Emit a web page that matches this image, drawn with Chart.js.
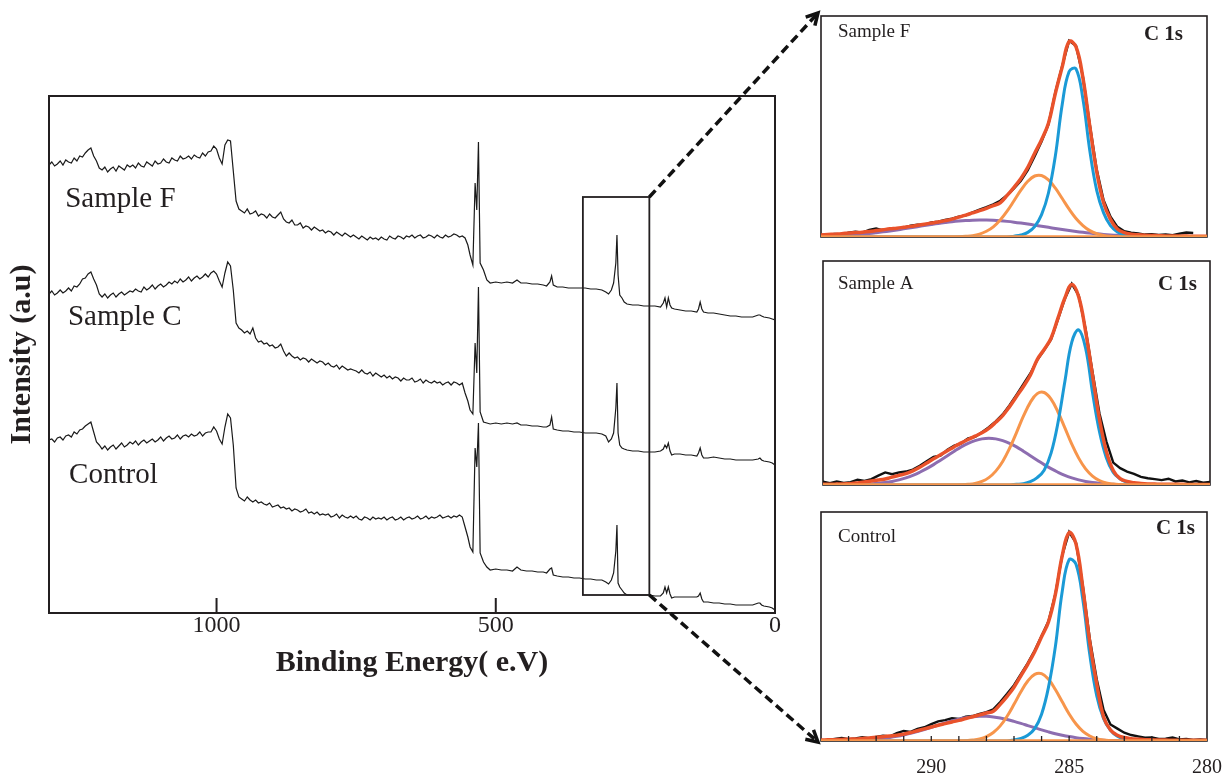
<!DOCTYPE html>
<html>
<head>
<meta charset="utf-8">
<title>XPS survey and C 1s spectra</title>
<script src="https://cdn.jsdelivr.net/npm/chart.js@4.4.1/dist/chart.umd.min.js"></script>
<style>
  html, body { margin: 0; padding: 0; background: #fff; overflow: hidden; }
  body { width: 1226px; height: 778px; position: relative; }
  canvas { position: absolute; }
  #survey { left: 0; top: 80px; }
  #insetF { left: 811px; top: 6px; }
  #insetA { left: 813px; top: 251px; }
  #insetCtl { left: 811px; top: 502px; }
  #overlay { left: 0; top: 0; pointer-events: none; }
</style>
</head>
<body>
<canvas id="survey" width="790" height="620"></canvas>
<canvas id="insetF" width="410" height="241"></canvas>
<canvas id="insetA" width="407" height="244"></canvas>
<canvas id="insetCtl" width="426" height="276"></canvas>
<canvas id="overlay" width="1226" height="778"></canvas>
<script>
const SERIF = "'Liberation Serif', 'Times New Roman', serif";
const INK = "#231f20";
Chart.defaults.font.family = SERIF;
Chart.defaults.color = INK;

// ---- survey spectra (binding energy in eV, intensity in a.u.) ----
const surveyEnergy = [
  1300, 1295, 1290, 1285, 1280, 1275, 1270, 1265, 1260, 1255,
  1250, 1245, 1240, 1235, 1230, 1225, 1220, 1215, 1210, 1205,
  1200, 1195, 1190, 1185, 1180, 1175, 1170, 1165, 1160, 1155,
  1150, 1145, 1140, 1135, 1130, 1125, 1120, 1115, 1110, 1105,
  1100, 1095, 1090, 1085, 1080, 1075, 1070, 1065, 1060, 1055,
  1050, 1045, 1040, 1035, 1030, 1025, 1020, 1015, 1010, 1005,
  1000, 995, 990, 985, 980, 975, 970, 965, 960,
  955, 950, 945, 940, 935, 930, 925, 920, 915, 910,
  905, 900, 895, 890, 885, 880, 875, 870, 865, 860,
  855, 850, 845, 840, 835, 830, 825, 820, 815, 810,
  805, 800, 795, 790, 785, 780, 775, 770, 765, 760,
  755, 750, 745, 740, 735, 730, 725, 720, 715, 710,
  705, 700, 695, 690, 685, 680, 675, 670, 665, 660,
  655, 650, 645, 640, 635, 630, 625, 620, 615, 610,
  605, 600, 595, 590, 585, 580, 575, 570, 565, 560,
  555, 550, 546, 541, 537, 534, 531, 528, 522, 516,
  510, 500, 490, 480, 470, 462, 455, 445, 435, 425,
  415, 409, 403, 400, 397, 390, 380, 370, 360, 350,
  340, 330, 320, 310, 303, 298, 293, 289, 285, 283,
  281, 278, 274, 270, 265, 255, 245, 235, 225, 215,
  205, 200, 197, 194, 191, 188, 185, 180, 170, 160,
  150, 140, 137, 134, 131, 128, 120, 110, 100, 90,
  80, 70, 60, 50, 40, 30, 27, 24, 20, 10,
  5, 0
];

const surveyF = [
  448, 451, 447, 449, 452, 448, 453, 451, 450, 455,
  452, 457, 456, 460, 463, 465, 457, 452, 445, 443,
  446, 441, 444, 446, 442, 447, 445, 443, 448, 446,
  448, 445, 450, 447, 446, 451, 449, 447, 452, 449,
  450, 454, 451, 450, 455, 453, 452, 457, 454, 455,
  457, 454, 458, 456, 455, 460, 457, 461, 462, 467,
  464, 455, 449, 468, 473, 472, 442, 412, 404,
  402, 400, 404, 399, 400, 402, 397, 399, 398, 395,
  399, 396, 395, 398, 401, 394, 391, 390, 393, 388,
  388, 390, 385, 387, 386, 383, 386, 384, 382, 383,
  380, 382, 381, 378, 381, 379, 377, 380, 378, 376,
  378, 376, 374, 377, 375, 373, 376, 374, 375, 373,
  376, 374, 373, 377, 375, 374, 377, 376, 374, 377,
  376, 378, 375, 377, 378, 375, 376, 378, 377, 375,
  378, 376, 375, 378, 376, 377, 379, 378, 376, 377,
  375, 368, 358, 348, 430, 403, 471, 350, 343, 333,
  330, 331, 330, 331, 330, 333, 330, 330, 329, 329,
  328, 327, 331, 337, 328, 326, 326, 325, 325, 325,
  325, 324, 324, 323, 321, 319, 323, 330, 350, 378,
  338, 318, 315, 311, 309, 308, 308, 307, 307, 307,
  306, 310, 315, 306, 315, 308, 305, 304, 303, 302,
  302, 301, 304, 311, 304, 301, 300, 300, 299, 298,
  297, 297, 296, 296, 296, 298, 298, 297, 296, 295,
  294, 293
];

const surveyC = [
  319, 322, 318, 320, 323, 320, 322, 325, 322, 327,
  326, 329, 334, 335, 339, 341, 334, 328, 319, 316,
  319, 315, 318, 320, 316, 319, 321, 318, 320, 322,
  321, 324, 322, 321, 326, 323, 325, 328, 324, 327,
  329, 326, 328, 331, 329, 332, 330, 334, 331, 333,
  336, 332, 335, 337, 334, 336, 339, 336, 340, 342,
  339, 332, 326, 340, 351, 347, 323, 290, 285,
  283, 280, 282, 279, 285, 275, 271, 272, 269, 270,
  267, 268, 265, 266, 269, 262, 257, 260, 257, 255,
  256, 253, 255, 254, 251, 254, 252, 250, 252, 251,
  248, 250, 247, 246, 248, 244, 247, 245, 243, 244,
  243, 242, 240, 243, 240, 239, 241, 237, 240, 238,
  236, 238, 235, 237, 234, 236, 235, 232, 235, 233,
  233, 235, 231, 232, 234, 230, 233, 231, 230, 232,
  230, 231, 228, 230, 231, 228, 231, 230, 228, 230,
  220, 212, 203, 199, 270, 240, 326, 201, 191, 190,
  189, 190, 189, 190, 189, 190, 188, 188, 187, 187,
  186, 186, 188, 196, 184, 183, 182, 182, 181, 181,
  180, 180, 180, 179, 177, 171, 174, 180, 205, 230,
  180, 168, 165, 164, 163, 162, 162, 161, 161, 161,
  162, 164, 168, 165, 170, 162, 158, 159, 159, 158,
  158, 157, 160, 165, 158, 155, 155, 156, 155, 154,
  154, 153, 153, 153, 153, 154, 155, 153, 152, 151,
  150, 148
];

const surveyControl = [
  173, 174, 171, 175, 176, 173, 177, 178, 176, 181,
  179, 183, 184, 187, 189, 191, 181, 171, 168, 164,
  167, 163, 166, 168, 164, 167, 170, 166, 168, 171,
  169, 172, 168, 171, 173, 170, 172, 174, 171, 173,
  176, 172, 175, 177, 174, 175, 178, 174, 177, 178,
  176, 179, 177, 178, 181, 177, 180, 181, 181, 186,
  182, 174, 169, 186, 199, 195, 168, 125, 116,
  114, 112, 116, 113, 111, 113, 110, 111, 109, 108,
  110, 106, 107, 108, 105, 106, 104, 105, 102, 104,
  103, 101, 102, 104, 100, 101, 99, 101, 98, 99,
  98, 99, 96, 97, 99, 95, 98, 96, 95, 97,
  95, 97, 94, 93, 96, 95, 93, 96, 94, 95,
  94, 96, 93, 95, 96, 93, 94, 96, 93, 95,
  96, 94, 95, 97, 94, 95, 97, 94, 96, 95,
  96, 98, 95, 96, 97, 95, 97, 96, 98, 96,
  86, 76, 66, 61, 165, 146, 190, 60, 51, 46,
  43, 44, 43, 43, 42, 46, 43, 42, 42, 41,
  41, 40, 44, 45, 38, 37, 36, 36, 35, 35,
  34, 34, 33, 33, 31, 29, 33, 40, 62, 88,
  30, 26, 23, 20, 18, 18, 18, 18, 18, 17,
  17, 20, 26, 20, 26, 19, 15, 16, 16, 16,
  16, 16, 17, 20, 14, 11, 11, 10, 10, 9,
  9, 8, 8, 8, 8, 10, 10, 8, 7, 6,
  5, 3
];

const surveyTicks = [1000, 500, 0];
const surveyLabels = ["Sample F", "Sample C", "Control"];
const surveyLabelAt = [[1271, 406], [1266, 288], [1264, 130]];
const zoomWindow = [344, 225];
const zoomLevels = [18, 416];

// ---- C 1s high resolution (0..100 = full inset height) ----
const c1sEnergy = [
  294, 293.75, 293.5, 293.25, 293, 292.75, 292.5, 292.25, 292, 291.75,
  291.5, 291.25, 291, 290.75, 290.5, 290.25, 290, 289.75, 289.5, 289.25,
  289, 288.75, 288.5, 288.25, 288, 287.75, 287.5, 287.25, 287, 286.75,
  286.5, 286.25, 286, 285.75, 285.5, 285.25, 285, 284.75, 284.5, 284.25,
  284, 283.75, 283.5, 283.25, 283, 282.75, 282.5, 282.25, 282, 281.75,
  281.5, 281.25, 281, 280.75, 280.5, 280.25, 280
];
const c1sRange = [294, 280];
const c1sBackground = [0, 0];
const c1sTicks = [290, 285, 280];
const c1sMinorTicks = [293, 292, 291, 290, 289, 288, 287, 286, 285, 284, 283, 282, 281];

// Sample F
const rawF = [
  0.9, 1.0, 1.4, 1.2, 1.9, 2.4, 2.0, 3.2, 3.8, 3.0,
  3.4, 3.5, 4.2, 5.1, 5.6, 5.5, 6.6, 6.9, 7.7, 8.3,
  9.2, 9.8, 11.2, 12.4, 13.5, 14.8, 16.4, 18.9, 22.0, 25.5,
  30.2, 36.5, 43.2, 51, 65.5, 77.5, 88.8, 86.5, 72.5, 50.8,
  30.5, 16.6, 9.2, 4.6, 2.6, 2.0, 1.6, 1.1, 1.3, 0.9,
  1.2, 0.8, 1.5, 2.0, 1.8, null, null
];
const fitF = [
  0.9, 1.1, 1.3, 1.5, 1.8, 2.0, 2.2, 2.5, 2.9, 3.3,
  3.7, 4.0, 4.4, 4.8, 5.3, 5.8, 6.3, 6.8, 7.4, 8.1,
  9.0, 9.9, 10.9, 11.9, 13.0, 14.2, 15.5, 18.8, 22.5, 26.5,
  31.5, 37.9, 44, 51.5, 65, 77, 88.5, 86, 72, 50,
  29.5, 15.5, 8, 3.6, 2.0, 1.3, 1.0, 0.8, 0.7, 0.6,
  0.5, 0.5, 0.4, 0.4, 0.3, 0.3, 0.3
];
const ccF = [
  0, 0, 0, 0, 0, 0, 0, 0, 0, 0,
  0, 0, 0, 0, 0, 0, 0, 0, 0, 0,
  0, 0, 0, 0, 0, 0, 0, 0, 0.4, 0.9,
  2.1, 4.7, 10.1, 19.9, 36.7, 60.1, 74.9, 76.1, 62.4, 39,
  21.1, 10.9, 5.1, 2.3, 1.0, 0.5, 0.2, 0, 0, 0,
  0, 0, 0, 0, 0, 0, 0
];
const coF = [
  0, 0, 0, 0, 0, 0, 0, 0, 0, 0,
  0, 0, 0, 0, 0, 0, 0, 0, 0, 0,
  0.1, 0.3, 0.6, 1.3, 2.6, 4.6, 7.7, 11.7, 16.4, 21.2,
  25.2, 27.6, 27.8, 25.8, 22.1, 17.4, 12.6, 8.4, 5.2, 2.9,
  1.5, 0.7, 0.3, 0.1, 0, 0, 0, 0, 0, 0,
  0, 0, 0, 0, 0, 0, 0
];
const cooF = [
  0.32, 0.42, 0.54, 0.69, 0.87, 1.09, 1.34, 1.63, 1.97, 2.34,
  2.75, 3.2, 3.67, 4.16, 4.67, 5.18, 5.67, 6.14, 6.56, 6.94,
  7.25, 7.48, 7.63, 7.7, 7.67, 7.55, 7.35, 7.07, 6.72, 6.31,
  5.86, 5.38, 4.87, 4.37, 3.87, 3.38, 2.92, 2.5, 2.11, 1.76,
  1.45, 1.18, 0.95, 0.76, 0.6, 0.47, 0.36, 0.27, 0.2, 0.15,
  0.11, 0.08, 0.06, 0.04, 0.03, 0.02, 0.01
];

// Sample A
const rawA = [
  1.5, 0.8, 1.6, 0.9, 1.3, 2.4, 1.8, 2.6, 4.2, 5.6,
  4.8, 5.6, 6.0, 6.9, 8.6, 10.6, 12.6, 13.1, 15.8, 17.6,
  18.6, 20.8, 21.5, 23.6, 25.8, 28.4, 31.5, 35.6, 40.2, 45,
  49.8, 55.8, 60.2, 65, 74, 83.2, 89.8, 84.6, 69.5, 50.5,
  32, 19.5, 10, 7.5, 6, 5, 3.6, 3.0, 2.6, 2.2,
  2.8, 1.6, 2.0, 1.2, 1.8, 1.0, 1.4
];
const fitA = [
  0.3, 0.3, 0.4, 0.5, 0.6, 0.9, 1.3, 1.8, 2.2, 2.7,
  3.5, 4.3, 5.1, 6.3, 7.9, 9.8, 11.7, 13.5, 15.3, 17.1,
  18.8, 20.3, 21.8, 23.3, 25.3, 28, 31, 35, 39.5, 44,
  49, 56, 60.5, 65.5, 74.5, 83.5, 89.5, 84, 68.5, 49,
  29.5, 15, 6.5, 2.8, 1.6, 1.0, 0.7, 0.5, 0.4, 0.3,
  0.3, 0.3, 0.3, 0.2, 0.2, 0.2, 0.2
];
const ccA = [
  0, 0, 0, 0, 0, 0, 0, 0, 0, 0,
  0, 0, 0, 0, 0, 0, 0, 0, 0, 0,
  0, 0, 0, 0, 0, 0, 0, 0, 0.3, 0.6,
  1.5, 3.3, 6.6, 14.2, 27.8, 46.2, 63.8, 69.3, 61.1, 41.3,
  23.9, 12.2, 5.6, 2.7, 1.2, 0.5, 0.2, 0, 0, 0,
  0, 0, 0, 0, 0, 0, 0
];
const coA = [
  0, 0, 0, 0, 0, 0, 0, 0, 0, 0,
  0, 0, 0, 0, 0, 0, 0, 0, 0, 0,
  0.1, 0.3, 0.7, 1.6, 3.3, 6.2, 10.5, 16.4, 23.4, 30.7,
  36.9, 40.8, 41.3, 38.3, 32.6, 25.5, 18.2, 12.0, 7.2, 4.0,
  2.0, 0.9, 0.4, 0.15, 0, 0, 0, 0, 0, 0,
  0, 0, 0, 0, 0, 0, 0
];
const cooA = [
  0, 0, 0.03, 0.06, 0.11, 0.19, 0.31, 0.49, 0.75, 1.1,
  1.6, 2.3, 3.2, 4.3, 5.7, 7.3, 9.1, 11.1, 13.1, 15.1,
  17.0, 18.6, 19.8, 20.6, 20.9, 20.6, 19.8, 18.6, 17.0, 15.1,
  13.1, 11.1, 9.1, 7.3, 5.7, 4.3, 3.2, 2.3, 1.6, 1.1,
  0.75, 0.49, 0.31, 0.19, 0.11, 0.06, 0.03, 0, 0, 0,
  0, 0, 0, 0, 0, 0, 0
];

// Control
const rawCtl = [
  0.3, 0.5, 0.9, 1.3, 0.8, 1.1, 1.6, 1.2, 1.8, 2.3,
  2.0, 3.4, 4.4, 4.0, 5.3, 6.0, 7.4, 8.6, 9.1, 9.9,
  9.6, 10.6, 10.9, 11.8, 12.6, 13.8, 17.0, 20.6, 24.4, 29.2,
  34.0, 39.5, 45.8, 52.3, 64.2, 81.2, 91.2, 86.5, 67.5, 44.5,
  27, 13.5, 7.2, 5.4, 3.6, 2.6, 2.0, 1.4, 1.6, 0.9,
  1.0, 1.5, 0.7, 0.9, 0.5, 0.7, 0.5
];
const fitCtl = [
  0.4, 0.5, 0.6, 0.7, 0.8, 0.9, 1.1, 1.3, 1.6, 1.9,
  2.2, 2.5, 3.0, 3.7, 4.5, 5.3, 6.1, 6.9, 7.6, 8.3,
  9.0, 9.8, 10.6, 11.4, 12.2, 13.0, 16.0, 19.5, 23.5, 28.5,
  33.5, 39, 45.5, 52, 64, 81, 91, 86, 66.5, 43,
  25, 10.5, 4.8, 2.5, 1.5, 1.0, 0.8, 0.6, 0.5, 0.4,
  0.4, 0.3, 0.3, 0.3, 0.3, 0.3, 0.3
];
const ccCtl = [
  0, 0, 0, 0, 0, 0, 0, 0, 0, 0,
  0, 0, 0, 0, 0, 0, 0, 0, 0, 0,
  0, 0, 0, 0, 0, 0, 0, 0, 0.5, 1.1,
  2.5, 5.4, 11.7, 23.4, 41.2, 65.4, 79.2, 77.2, 61.4, 37.6,
  19.8, 9.7, 4.7, 2.1, 0.9, 0.4, 0.2, 0, 0, 0,
  0, 0, 0, 0, 0, 0, 0
];
const coCtl = [
  0, 0, 0, 0, 0, 0, 0, 0, 0, 0,
  0, 0, 0, 0, 0, 0, 0, 0, 0, 0,
  0, 0.13, 0.4, 0.9, 1.9, 3.7, 6.6, 10.8, 16.0, 21.5,
  26.2, 29.1, 29.4, 27.0, 22.5, 17.1, 11.8, 7.4, 4.2, 2.2,
  1.0, 0.4, 0.15, 0, 0, 0, 0, 0, 0, 0,
  0, 0, 0, 0, 0, 0, 0
];
const cooCtl = [
  0.03, 0.05, 0.08, 0.12, 0.18, 0.28, 0.41, 0.59, 0.83, 1.15,
  1.55, 2.05, 2.65, 3.35, 4.16, 5.04, 5.97, 6.93, 7.88, 8.76,
  9.53, 10.15, 10.57, 10.8, 10.76, 10.5, 10.04, 9.39, 8.59, 7.7,
  6.74, 5.78, 4.85, 3.99, 3.2, 2.52, 1.94, 1.46, 1.08, 0.78,
  0.55, 0.38, 0.26, 0.17, 0.11, 0.07, 0.05, 0, 0, 0,
  0, 0, 0, 0, 0, 0, 0
];

const RED = "#e9522b";
const BLUE = "#1b9ad6";
const ORANGE = "#f7954b";
const PURPLE = "#8d6db0";

function points(xs, ys) {
  return xs.map((x, i) => ({ x: x, y: ys[i] }));
}

function trace(xs, ys, color, width, tension) {
  return {
    data: points(xs, ys),
    borderColor: color,
    borderWidth: width,
    pointRadius: 0,
    fill: false,
    tension: tension,
    spanGaps: false,
  };
}

// frame, inward ticks, zoom window and sample names on the survey
const surveyDecor = {
  id: "surveyDecor",
  afterDatasetsDraw(chart) {
    const { ctx, chartArea: a, scales } = chart;
    const x = scales.x, y = scales.y;
    ctx.save();
    ctx.strokeStyle = INK;
    ctx.lineWidth = 2;
    ctx.strokeRect(a.left, a.top, a.right - a.left, a.bottom - a.top);
    surveyTicks.forEach((v) => {
      const px = x.getPixelForValue(v);
      ctx.beginPath();
      ctx.moveTo(px, a.bottom);
      ctx.lineTo(px, a.bottom - 15);
      ctx.stroke();
    });
    const x0 = x.getPixelForValue(zoomWindow[0]);
    const x1 = x.getPixelForValue(zoomWindow[1]);
    const y0 = y.getPixelForValue(zoomLevels[1]);
    const y1 = y.getPixelForValue(zoomLevels[0]);
    ctx.lineWidth = 1.8;
    ctx.strokeRect(x0, y0, x1 - x0, y1 - y0);
    ctx.fillStyle = INK;
    ctx.font = "29px " + SERIF;
    ctx.textBaseline = "alphabetic";
    surveyLabels.forEach((t, i) => {
      ctx.fillText(t, x.getPixelForValue(surveyLabelAt[i][0]), y.getPixelForValue(surveyLabelAt[i][1]));
    });
    ctx.restore();
  },
};

const survey = new Chart(document.getElementById("survey"), {
  type: "line",
  data: {
    datasets: [
      trace(surveyEnergy, surveyF, "#1a1a1a", 1.2, 0),
      trace(surveyEnergy, surveyC, "#1a1a1a", 1.2, 0),
      trace(surveyEnergy, surveyControl, "#1a1a1a", 1.2, 0),
    ],
  },
  options: {
    responsive: false,
    animation: false,
    devicePixelRatio: 1,
    layout: { padding: { top: 16, right: 15, bottom: 15, left: 0 } },
    plugins: { legend: { display: false }, tooltip: { enabled: false } },
    scales: {
      x: {
        type: "linear",
        reverse: true,
        min: 0,
        max: 1300,
        grid: { display: false, drawTicks: false },
        border: { display: false },
        afterBuildTicks: (s) => { s.ticks = surveyTicks.map((v) => ({ value: v })); },
        afterFit: (s) => { s.height = 72; },
        ticks: {
          autoSkip: false,
          maxRotation: 0,
          padding: -2,
          color: INK,
          font: { size: 24 },
          callback: (v) => String(v),
        },
        title: {
          display: true,
          text: "Binding Energy( e.V)",
          color: INK,
          font: { size: 30, weight: "bold" },
          padding: { top: 0, bottom: 4 },
        },
      },
      y: {
        min: 0,
        max: 517,
        grid: { display: false, drawTicks: false },
        border: { display: false },
        ticks: { display: false },
        afterFit: (s) => { s.width = 49; },
        title: {
          display: true,
          text: "Intensity (a.u)",
          color: INK,
          font: { size: 30, weight: "bold" },
          padding: { top: 4, bottom: 0 },
        },
      },
    },
  },
  plugins: [surveyDecor],
});

// frame under the curves, names and minor ticks over them
const insetDecor = {
  id: "insetDecor",
  beforeDatasetsDraw(chart) {
    const { ctx, chartArea: a } = chart;
    ctx.save();
    ctx.strokeStyle = INK;
    ctx.lineWidth = 1.6;
    ctx.strokeRect(a.left, a.top, a.right - a.left, a.bottom - a.top);
    ctx.restore();
  },
  afterDatasetsDraw(chart, args, o) {
    const { ctx, chartArea: a } = chart;
    const x = chart.scales.x;
    ctx.save();
    ctx.fillStyle = INK;
    ctx.textBaseline = "alphabetic";
    ctx.textAlign = "left";
    ctx.font = "19px " + SERIF;
    ctx.fillText(o.name, a.left + o.nameAt[0], a.top + o.nameAt[1]);
    ctx.textAlign = "right";
    ctx.font = "bold 21px " + SERIF;
    ctx.fillText("C 1s", a.right - o.tagAt[0], a.top + o.tagAt[1]);
    if (o.minor) {
      ctx.strokeStyle = INK;
      ctx.lineWidth = 1.3;
      c1sMinorTicks.forEach((v) => {
        const px = x.getPixelForValue(v);
        ctx.beginPath();
        ctx.moveTo(px, a.bottom);
        ctx.lineTo(px, a.bottom - 5);
        ctx.stroke();
      });
    }
    ctx.restore();
  },
};

function insetChart(id, s, deco, padding, withAxis) {
  return new Chart(document.getElementById(id), {
    type: "line",
    data: {
      // first dataset is painted last
      datasets: [
        trace(c1sRange, c1sBackground, ORANGE, 3.5, 0),
        trace(c1sEnergy, s.fit, RED, 3.5, 0.4),
        trace(c1sEnergy, s.cc, BLUE, 3, 0.4),
        trace(c1sEnergy, s.co, ORANGE, 3, 0.4),
        trace(c1sEnergy, s.coo, PURPLE, 3, 0.4),
        trace(c1sEnergy, s.raw, "#111", 2.4, 0),
      ],
    },
    options: {
      responsive: false,
      animation: false,
      devicePixelRatio: 1,
      layout: { padding: padding },
      plugins: { legend: { display: false }, tooltip: { enabled: false }, insetDecor: deco },
      scales: {
        x: {
          type: "linear",
          reverse: true,
          min: 280,
          max: 294,
          display: withAxis,
          grid: { display: false, drawTicks: false },
          border: { display: false },
          afterBuildTicks: (sc) => { sc.ticks = c1sTicks.map((v) => ({ value: v })); },
          afterFit: (sc) => { if (withAxis) sc.height = 37; },
          ticks: { autoSkip: false, maxRotation: 0, padding: 15, color: INK, font: { size: 20 } },
        },
        y: { min: 0, max: 100, display: false },
      },
    },
    plugins: [insetDecor],
  });
}

const insetF = insetChart(
  "insetF",
  { raw: rawF, fit: fitF, cc: ccF, co: coF, coo: cooF },
  { name: "Sample F", nameAt: [17, 21], tagAt: [24, 24], minor: false },
  { top: 10, right: 14, bottom: 10, left: 10 },
  false
);
const insetA = insetChart(
  "insetA",
  { raw: rawA, fit: fitA, cc: ccA, co: coA, coo: cooA },
  { name: "Sample A", nameAt: [15, 28], tagAt: [13, 29], minor: false },
  { top: 10, right: 10, bottom: 10, left: 10 },
  false
);
const insetCtl = insetChart(
  "insetCtl",
  { raw: rawCtl, fit: fitCtl, cc: ccCtl, co: coCtl, coo: cooCtl },
  { name: "Control", nameAt: [17, 30], tagAt: [12, 22], minor: true },
  { top: 10, right: 19, bottom: 0, left: 10 },
  true
);

// dashed pointers from the zoom window to the top and bottom insets
function drawPointer(ctx, x0, y0, x1, y1) {
  ctx.setLineDash([9, 5]);
  ctx.beginPath();
  ctx.moveTo(x0, y0);
  ctx.lineTo(x1, y1);
  ctx.stroke();
  ctx.setLineDash([]);
  const ang = Math.atan2(y1 - y0, x1 - x0);
  const len = 13;
  ctx.beginPath();
  ctx.moveTo(x1 - len * Math.cos(ang - 0.5), y1 - len * Math.sin(ang - 0.5));
  ctx.lineTo(x1, y1);
  ctx.lineTo(x1 - len * Math.cos(ang + 0.5), y1 - len * Math.sin(ang + 0.5));
  ctx.stroke();
}

(function () {
  const ov = document.getElementById("overlay").getContext("2d");
  const sEl = document.getElementById("survey");
  const fEl = document.getElementById("insetF");
  const cEl = document.getElementById("insetCtl");
  const bx = sEl.offsetLeft + survey.scales.x.getPixelForValue(zoomWindow[1]);
  const byTop = sEl.offsetTop + survey.scales.y.getPixelForValue(zoomLevels[1]);
  const byBot = sEl.offsetTop + survey.scales.y.getPixelForValue(zoomLevels[0]);
  const tx = fEl.offsetLeft + insetF.chartArea.left - 3;
  const ty = fEl.offsetTop + insetF.chartArea.top - 3;
  const ux = cEl.offsetLeft + insetCtl.chartArea.left - 3;
  const uy = cEl.offsetTop + insetCtl.chartArea.bottom + 1;
  ov.strokeStyle = "#111";
  ov.lineWidth = 3.5;
  drawPointer(ov, bx, byTop, tx, ty);
  drawPointer(ov, bx, byBot, ux, uy);
})();
</script>
</body>
</html>
